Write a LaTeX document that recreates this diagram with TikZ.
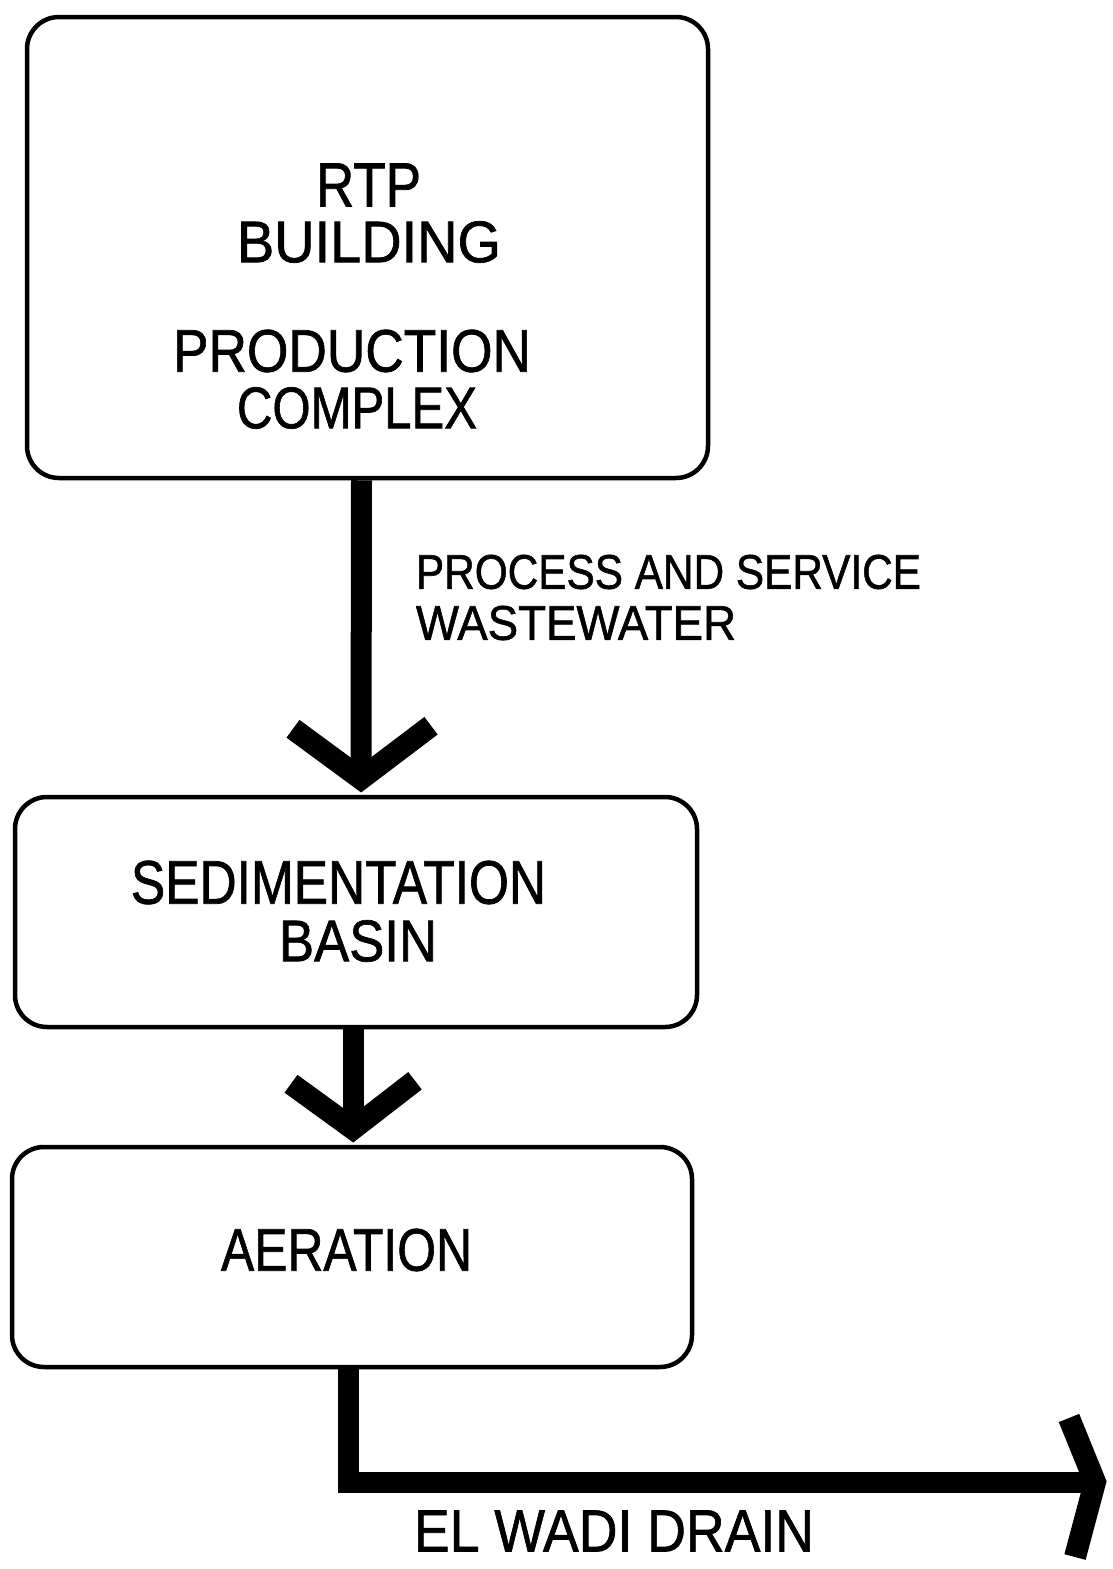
\documentclass[tikz,border=0pt]{standalone}
\usepackage{fontspec}
\usepackage{graphicx}
\setmainfont{Liberation Sans}[FakeBold=1.2]
\usetikzlibrary{calc}
% lettering stretched to a given width and cap height
\newcommand\handtext[3]{\resizebox{#1pt}{#2pt}{#3}}
\begin{document}
\begin{tikzpicture}[x=1pt,y=-1pt,
  box/.style={draw, line width=4.5pt, rounded corners=32pt, inner sep=0pt},
  shaft/.style={line width=21pt, line cap=butt, line join=miter},
  chevron/.style={line width=22pt, line cap=butt, line join=miter, miter limit=20},
  lettering/.style={inner sep=0pt, anchor=center}]
\fill[white] (0,0) rectangle (1112,1569);
\useasboundingbox (0,0) rectangle (1112,1569);

% process boxes
\node[box, minimum width=681pt, minimum height=461pt] (building) at (367.5,247.5) {};
\node[box, minimum width=682pt, minimum height=230pt] (sedimentation) at (356,912) {};
\node[box, minimum width=680pt, minimum height=220pt] (aeration) at (352,1257) {};

% box texts
\node[lettering] (rtp) at (368.5,185) {\handtext{105}{43}{RTP}};
\node[lettering] (bldg) at (369,242) {\handtext{264}{41}{BUILDING}};
\node[lettering] (prod) at (352,351) {\handtext{358}{42}{PRODUCTION}};
\node[lettering] (cplx) at (357,408) {\handtext{240}{41}{COMPLEX}};
\node[lettering] (sedtxt) at (338.5,882.5) {\handtext{415}{43}{SEDIMENTATION}};
\node[lettering] (basin) at (358,941) {\handtext{158}{41}{BASIN}};
\node[lettering] (aertxt) at (346.5,1250) {\handtext{251}{42}{AERATION}};

% flow labels
\node[lettering] (pas) at (668.5,572) {\handtext{505}{34}{PROCESS AND SERVICE}};
\node[lettering] (ww) at (576,623) {\handtext{320}{34}{WASTEWATER}};
\node[lettering] (drain) at (614,1531) {\handtext{400}{41}{EL WADI DRAIN}};

% building -> sedimentation
\coordinate (tip1) at ([xshift=5pt,yshift=16pt]sedimentation.north);
\draw[shaft] ([xshift=-6pt]building.south) -- (tip1);
\draw[chevron] ($(tip1)+(-68,-50)$) -- (tip1) -- ($(tip1)+(70,-53)$);

% sedimentation -> aeration
\coordinate (tip2) at ([xshift=1pt,yshift=16pt]aeration.north);
\draw[shaft] ([xshift=-3pt]sedimentation.south) -- (tip2);
\draw[chevron] ($(tip2)+(-62,-45)$) -- (tip2) -- ($(tip2)+(62,-48)$);

% aeration -> El Wadi drain
\coordinate (tip3) at (1095,1482);
\draw[shaft] ([xshift=-4pt]aeration.south) |- (tip3);
\draw[chevron] ($(tip3)+(-26,-64)$) -- (tip3) -- ($(tip3)+(-20,75)$);
\end{tikzpicture}
\end{document}
